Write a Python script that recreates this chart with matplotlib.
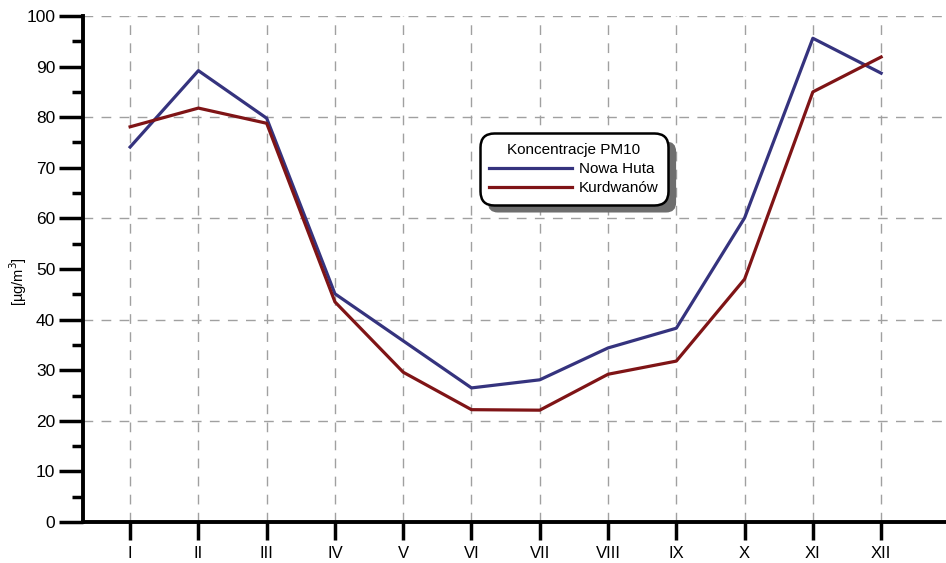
import matplotlib
matplotlib.use("Agg")
import matplotlib.pyplot as plt
from matplotlib.patches import FancyBboxPatch
from matplotlib.ticker import MultipleLocator

months = ["I", "II", "III", "IV", "V", "VI", "VII", "VIII", "IX", "X", "XI", "XII"]
nowa_huta = [74.1, 89.2, 79.8, 45.1, 35.8, 26.5, 28.1, 34.4, 38.3, 60.1, 95.6, 88.7]
kurdwanow = [78.1, 81.8, 78.8, 43.5, 29.6, 22.2, 22.1, 29.2, 31.8, 48.0, 85.0, 91.9]
legend_title = "Koncentracje PM10"
series_names = ["Nowa Huta", "Kurdwanów"]
ylabel = "[µg/m$^3$]"

plt.rcParams['font.family'] = ['Liberation Sans', 'DejaVu Sans']

fig = plt.figure(figsize=(9.46, 5.63), dpi=100)
ax = fig.add_axes([83/946, 41/563, 1 - 83/946, (522-16)/563])

x = list(range(1, len(months) + 1))
ax.plot(x, nowa_huta, color="#35337e", lw=2.3, label=series_names[0], zorder=3)
ax.plot(x, kurdwanow, color="#7f1416", lw=2.3, label=series_names[1], zorder=3)

ax.set_ylim(0, 100)
ax.set_xlim(0.31, 12.95)
ax.set_xticks(x)
ax.set_xticklabels(months, fontsize=12)
ax.yaxis.set_major_locator(MultipleLocator(10))
ax.yaxis.set_minor_locator(MultipleLocator(5))
ax.tick_params(axis='y', which='major', length=17, width=2.5, direction='out', labelsize=12.5, pad=3)
ax.tick_params(axis='y', which='minor', length=8, width=2.5, direction='out')
ax.tick_params(axis='x', which='major', length=13, width=2.5, direction='out', labelsize=12, pad=4)

for s in ['top', 'right']:
    ax.spines[s].set_visible(False)
for s in ['left', 'bottom']:
    ax.spines[s].set_linewidth(2.8)

for yy in [20, 40, 60, 80, 100]:
    ax.axhline(yy, color="#a0a0a0", lw=1, ls=(0, (7, 6)), zorder=1)
for xx in x:
    ax.axvline(xx, color="#a0a0a0", lw=1, ls=(0, (7, 6)), zorder=1)

fig.text(18/946, 1 - 282/563, ylabel, rotation=90, ha='center', va='center', fontsize=10.5)

leg = ax.legend(title=legend_title, loc='center', bbox_to_anchor=(574/946, 1 - 169/563),
                bbox_transform=fig.transFigure, fontsize=11, title_fontsize=11,
                handlelength=5.4, handletextpad=0.5, borderpad=0.6, labelspacing=0.35,
                fancybox=True, framealpha=1, edgecolor='black')
leg.get_frame().set_linewidth(1.8)
leg.get_frame().set_boxstyle("round,pad=0,rounding_size=0.9")
leg.set_zorder(10)

fig.canvas.draw()
bb = leg.get_window_extent()
off = 8
shadow = FancyBboxPatch((bb.x0 + off, bb.y0 - off), bb.width, bb.height,
                        boxstyle="round,pad=0,rounding_size=10",
                        transform=None, facecolor="#6e6e6e", edgecolor='none',
                        zorder=9, clip_on=False)
ax.add_artist(shadow)

fig.savefig("out.png", dpi=100)
